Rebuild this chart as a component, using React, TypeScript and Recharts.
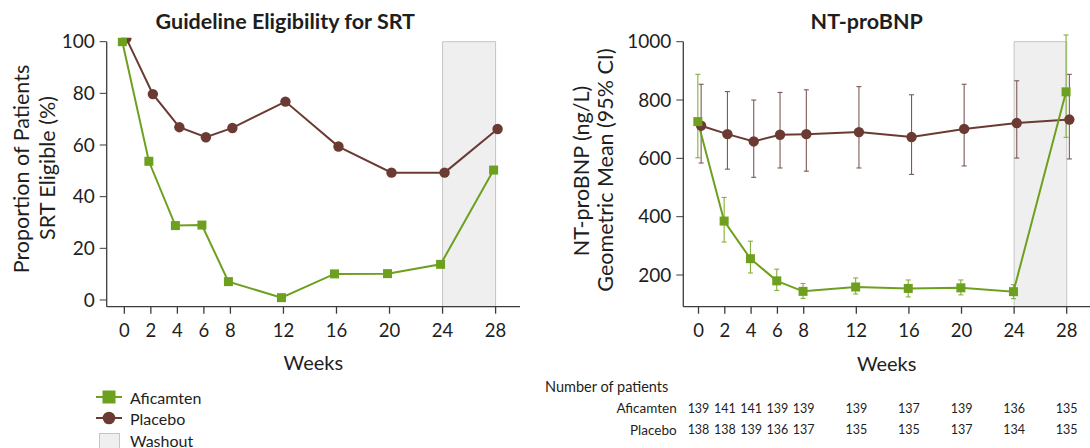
import React from 'react';
import {
  ComposedChart,
  Line,
  XAxis,
  YAxis,
  ReferenceArea,
  ReferenceLine,
  ErrorBar,
} from 'recharts';

// ---------------- data ----------------
const WEEKS = [0, 2, 4, 6, 8, 12, 16, 20, 24, 28];
const SRT_Y_TICKS = [0, 20, 40, 60, 80, 100];
const BNP_Y_TICKS = [200, 400, 600, 800, 1000];

// Guideline eligibility for SRT (%)
const SRT_AFICAMTEN = [100, 53.7, 28.8, 29.0, 7.1, 0.9, 10.1, 10.2, 13.8, 50.3];
const SRT_PLACEBO = [101.3, 79.7, 66.9, 63.0, 66.6, 76.8, 59.4, 49.3, 49.3, 66.2];

// NT-proBNP geometric mean (ng/L) with 95% CI
const BNP_AFICAMTEN = [726, 385, 256, 180, 144, 159, 154, 156, 143, 828];
const BNP_AFICAMTEN_LO = [602, 313, 207, 147, 120, 135, 125, 132, 119, 672];
const BNP_AFICAMTEN_HI = [888, 466, 316, 220, 171, 190, 183, 183, 167, 1023];
const BNP_PLACEBO = [712, 683, 658, 681, 683, 690, 673, 701, 721, 733];
const BNP_PLACEBO_LO = [584, 563, 535, 567, 556, 567, 545, 574, 601, 598];
const BNP_PLACEBO_HI = [854, 829, 800, 826, 835, 846, 818, 854, 866, 888];

// Number of patients
const N_AFICAMTEN = [139, 141, 141, 139, 139, 139, 137, 139, 136, 135];
const N_PLACEBO = [138, 138, 139, 136, 137, 135, 135, 137, 134, 135];

const WASHOUT = [24, 28];

// ---------------- style ----------------
const GREEN = '#6ea01f';
const GREEN_ERR = '#82b03a';
const BROWN = '#6b3b33';
const BROWN_ERR = '#7d5a55';
const AXIS = '#3c3c3c';
const TEXT = '#1e1e1e';
const WASH_FILL = '#efefef';
const WASH_STROKE = '#c4c4c4';
const FONT = 'Lato, "Open Sans", sans-serif';

// small horizontal dodge between the two series
const DODGE_L = [-0.15, 0.15];
const DODGE_R = [-0.05, 0.2];

const srtAfi = WEEKS.map((w, i) => ({ week: w + DODGE_L[0], value: SRT_AFICAMTEN[i] }));
const srtPbo = WEEKS.map((w, i) => ({ week: w + DODGE_L[1], value: SRT_PLACEBO[i] }));
const bnpAfi = WEEKS.map((w, i) => ({
  week: w + DODGE_R[0],
  value: BNP_AFICAMTEN[i],
  err: [BNP_AFICAMTEN[i] - BNP_AFICAMTEN_LO[i], BNP_AFICAMTEN_HI[i] - BNP_AFICAMTEN[i]],
}));
const bnpPbo = WEEKS.map((w, i) => ({
  week: w + DODGE_R[1],
  value: BNP_PLACEBO[i],
  err: [BNP_PLACEBO[i] - BNP_PLACEBO_LO[i], BNP_PLACEBO_HI[i] - BNP_PLACEBO[i]],
}));

const SquareDot = (props: any) => {
  const { cx, cy, index } = props;
  if (cx == null || cy == null) return <g key={`s-${index}`} />;
  return <rect key={`s-${index}`} x={cx - 4.5} y={cy - 4.5} width={9} height={9} fill={GREEN} />;
};
const CircleDot = (props: any) => {
  const { cx, cy, index } = props;
  if (cx == null || cy == null) return <g key={`c-${index}`} />;
  return <circle key={`c-${index}`} cx={cx} cy={cy} r={5.2} fill={BROWN} />;
};

const weekIndex = (w: number) => WEEKS.indexOf(Math.round(w));

// ---------------- left chart ----------------
const L_X_DOMAIN = [-1.33, 29.84];
const L_Y_DOMAIN = [-2.6, 101.5];

function LeftChart() {
  return (
    <ComposedChart
      width={540}
      height={399}
      margin={{ top: 37.8, right: 20, left: 0.7, bottom: 0 }}
    >
      <XAxis
        type="number"
        dataKey="week"
        domain={L_X_DOMAIN}
        allowDataOverflow
        ticks={WEEKS}
        interval={0}
        height={92.3}
        tickSize={7}
        tickMargin={10}
        stroke={AXIS}
        strokeWidth={1.3}
        tick={{ fontSize: 18.5, fill: TEXT }}
        label={{
          content: (p: any) => {
            const vb = p.viewBox || {};
            return (
              <text
                x={vb.x + vb.width / 2}
                y={vb.y + 55}
                textAnchor="middle"
                dominantBaseline="central"
                fontSize={20}
                fill={TEXT}
              >
                Weeks
              </text>
            );
          },
        }}
      />
      <YAxis
        type="number"
        domain={L_Y_DOMAIN}
        allowDataOverflow
        ticks={SRT_Y_TICKS}
        interval={0}
        width={106}
        axisLine={false}
        tickSize={7}
        tickMargin={5}
        stroke={AXIS}
        tick={{ fontSize: 19, fill: TEXT }}
      />
      <ReferenceArea
        x1={WASHOUT[0]}
        x2={WASHOUT[1]}
        y1={L_Y_DOMAIN[0]}
        y2={100}
        fill={WASH_FILL}
        fillOpacity={1}
        stroke={WASH_STROKE}
        strokeWidth={1}
        ifOverflow="visible"
      />
      <ReferenceLine
        segment={[
          { x: L_X_DOMAIN[0], y: L_Y_DOMAIN[0] },
          { x: L_X_DOMAIN[0], y: 100 },
        ]}
        stroke={AXIS}
        strokeWidth={1.3}
        ifOverflow="visible"
      />
      <Line
        data={srtPbo}
        dataKey="value"
        stroke={BROWN}
        strokeWidth={2}
        dot={CircleDot}
        activeDot={false}
        isAnimationActive={false}
      />
      <Line
        data={srtAfi}
        dataKey="value"
        stroke={GREEN}
        strokeWidth={2}
        dot={SquareDot}
        activeDot={false}
        isAnimationActive={false}
      />
    </ComposedChart>
  );
}

// ---------------- right chart ----------------
const R_X_DOMAIN = [-1.156, 29.77];
const R_Y_DOMAIN = [91.4, 1025];
const R_OFFSET = 540;

function RightChart() {
  const rowLabel = (label: string) => (p: any) => {
    const vb = p.viewBox || {};
    return (
      <text
        x={676.7 - R_OFFSET}
        y={vb.y + 5}
        dy="0.71em"
        textAnchor="end"
        fontSize={13.5}
        fill={TEXT}
      >
        {label}
      </text>
    );
  };
  return (
    <ComposedChart
      width={550}
      height={448}
      margin={{ top: 34.4, right: 0, left: 0, bottom: 0 }}
    >
      <XAxis
        type="number"
        dataKey="week"
        domain={R_X_DOMAIN}
        allowDataOverflow
        ticks={WEEKS}
        interval={0}
        height={92}
        tickSize={7}
        tickMargin={10}
        stroke={AXIS}
        strokeWidth={1.3}
        tick={{ fontSize: 18.5, fill: TEXT }}
        label={{
          content: (p: any) => {
            const vb = p.viewBox || {};
            return (
              <g>
                <text
                  x={vb.x + vb.width / 2}
                  y={vb.y + 56}
                  textAnchor="middle"
                  dominantBaseline="central"
                  fontSize={20}
                  fill={TEXT}
                >
                  Weeks
                </text>
                <text x={545 - R_OFFSET} y={386} dominantBaseline="central" fontSize={14.5} fill={TEXT}>
                  Number of patients
                </text>
              </g>
            );
          },
        }}
      />
      <XAxis
        xAxisId="nAfi"
        type="number"
        dataKey="week"
        domain={R_X_DOMAIN}
        allowDataOverflow
        ticks={WEEKS}
        interval={0}
        height={21.5}
        axisLine={false}
        tickLine={false}
        tickSize={0}
        tickMargin={5}
        tick={{ fontSize: 12.5, fill: TEXT }}
        tickFormatter={(w: number) => String(N_AFICAMTEN[weekIndex(w)])}
        label={{ content: rowLabel('Aficamten') }}
      />
      <XAxis
        xAxisId="nPbo"
        type="number"
        dataKey="week"
        domain={R_X_DOMAIN}
        allowDataOverflow
        ticks={WEEKS}
        interval={0}
        height={27.8}
        axisLine={false}
        tickLine={false}
        tickSize={0}
        tickMargin={5}
        tick={{ fontSize: 12.5, fill: TEXT }}
        tickFormatter={(w: number) => String(N_PLACEBO[weekIndex(w)])}
        label={{ content: rowLabel('Placebo') }}
      />
      <YAxis
        type="number"
        domain={R_Y_DOMAIN}
        allowDataOverflow
        ticks={BNP_Y_TICKS}
        interval={0}
        width={143.3}
        axisLine={false}
        tickSize={7}
        tickMargin={5}
        stroke={AXIS}
        tick={{ fontSize: 19, fill: TEXT }}
      />
      <ReferenceArea
        x1={WASHOUT[0]}
        x2={WASHOUT[1]}
        y1={R_Y_DOMAIN[0]}
        y2={1000}
        fill={WASH_FILL}
        fillOpacity={1}
        stroke={WASH_STROKE}
        strokeWidth={1}
        ifOverflow="visible"
      />
      <ReferenceLine
        segment={[
          { x: R_X_DOMAIN[0], y: R_Y_DOMAIN[0] },
          { x: R_X_DOMAIN[0], y: 1000 },
        ]}
        stroke={AXIS}
        strokeWidth={1.3}
        ifOverflow="visible"
      />
      <Line
        data={bnpPbo}
        dataKey="value"
        stroke={BROWN}
        strokeWidth={2}
        dot={CircleDot}
        activeDot={false}
        isAnimationActive={false}
      >
        <ErrorBar dataKey="err" direction="y" width={2.5} stroke={BROWN_ERR} strokeWidth={1.1} />
      </Line>
      <Line
        data={bnpAfi}
        dataKey="value"
        stroke={GREEN}
        strokeWidth={2}
        dot={SquareDot}
        activeDot={false}
        isAnimationActive={false}
      >
        <ErrorBar dataKey="err" direction="y" width={2.5} stroke={GREEN_ERR} strokeWidth={1.1} />
      </Line>
    </ComposedChart>
  );
}

// ---------------- overlay texts and legend ----------------
function Overlay() {
  return (
    <svg
      width={1090}
      height={448}
      style={{ position: 'absolute', left: 0, top: 0, pointerEvents: 'none', fontFamily: FONT }}
    >
      <text x={285.3} y={29} textAnchor="middle" fontSize={21.5} fontWeight={700} fill={TEXT}>
        Guideline Eligibility for SRT
      </text>
      <text x={866.7} y={29} textAnchor="middle" fontSize={21.5} fontWeight={700} fill={TEXT}>
        NT-proBNP
      </text>
      <text transform="translate(21,169) rotate(-90)" textAnchor="middle" dominantBaseline="central" fontSize={21.5} fill={TEXT}>
        Proportion of Patients
      </text>
      <text transform="translate(47,168) rotate(-90)" textAnchor="middle" dominantBaseline="central" fontSize={21.5} fill={TEXT}>
        SRT Eligible (%)
      </text>
      <text transform="translate(581,171) rotate(-90)" textAnchor="middle" dominantBaseline="central" fontSize={21.5} fill={TEXT}>
        NT-proBNP (ng/L)
      </text>
      <text transform="translate(605,170) rotate(-90)" textAnchor="middle" dominantBaseline="central" fontSize={21.5} fill={TEXT}>
        Geometric Mean (95% CI)
      </text>

      {/* legend */}
      <line x1={96} x2={122} y1={397} y2={397} stroke={GREEN} strokeWidth={2} />
      <rect x={102.5} y={390.5} width={13} height={13} fill={GREEN} />
      <text x={130} y={397} dominantBaseline="central" fontSize={16} fill={TEXT}>Aficamten</text>
      <line x1={96} x2={122} y1={418} y2={418} stroke={BROWN} strokeWidth={2} />
      <circle cx={109} cy={418} r={6.3} fill={BROWN} />
      <text x={130} y={418} dominantBaseline="central" fontSize={16} fill={TEXT}>Placebo</text>
      <rect x={99.5} y={433.5} width={20} height={16} fill={WASH_FILL} stroke={WASH_STROKE} strokeWidth={1} />
      <text x={130} y={440} dominantBaseline="central" fontSize={16} fill={TEXT}>Washout</text>
    </svg>
  );
}

export default function App() {
  return (
    <div
      style={{
        position: 'absolute',
        left: 0,
        top: 0,
        width: 1090,
        height: 448,
        background: '#ffffff',
        fontFamily: FONT,
        overflow: 'hidden',
      }}
    >
      <div style={{ position: 'absolute', left: 0, top: 0 }}>
        <LeftChart />
      </div>
      <div style={{ position: 'absolute', left: R_OFFSET, top: 0 }}>
        <RightChart />
      </div>
      <Overlay />
    </div>
  );
}
